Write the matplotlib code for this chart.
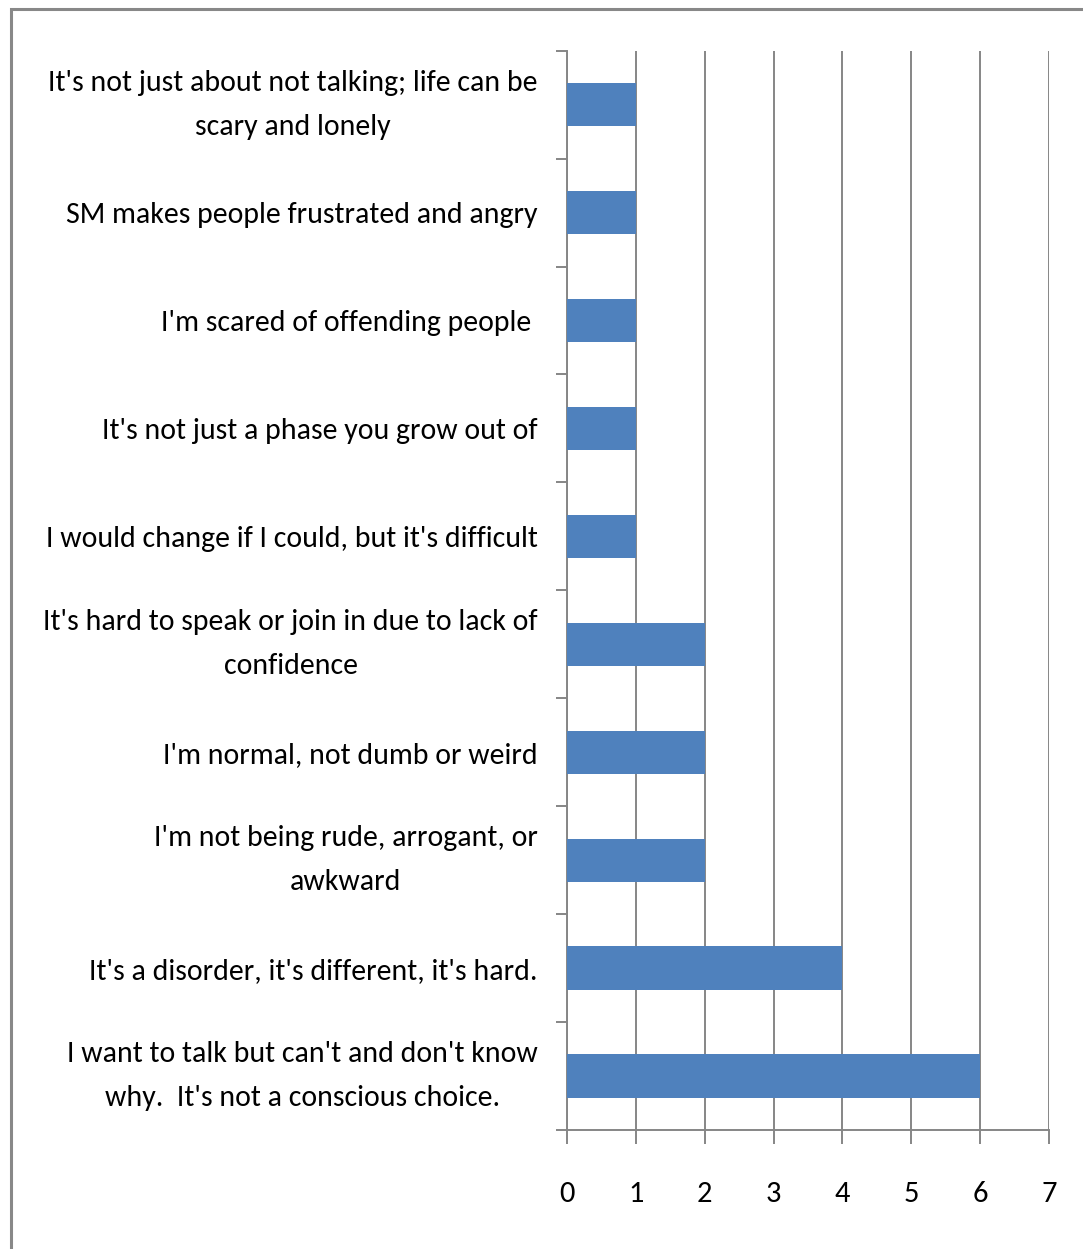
import matplotlib.pyplot as plt
from matplotlib.patches import Rectangle

labels = [
    "It's not just about not talking; life can be\nscary and lonely",
    "SM makes people frustrated and angry",
    "I'm scared of offending people ",
    "It's not just a phase you grow out of",
    "I would change if I could, but it's difficult",
    "It's hard to speak or join in due to lack of\nconfidence",
    "I'm normal, not dumb or weird",
    "I'm not being rude, arrogant, or\nawkward",
    "It's a disorder, it's different, it's hard.",
    "I want to talk but can't and don't know\nwhy.  It's not a conscious choice.",
]
counts = [1, 1, 1, 1, 1, 2, 2, 2, 4, 6]
xticks = [0, 1, 2, 3, 4, 5, 6, 7]

plt.rcParams['font.family'] = ['Carlito', 'DejaVu Sans']
grey = '#868686'

fig = plt.figure(figsize=(10.83, 12.49), dpi=100)
ax = fig.add_axes([0.5235, 0.0953, 0.4451, 0.8641])

pos = list(range(len(labels)))
ax.barh(pos, counts, height=0.4, color='#4F81BD', zorder=3)

ax.set_xlim(0, 7)
ax.set_ylim(len(labels) - 0.5, -0.5)
ax.set_xticks(xticks)
ax.set_xticklabels([str(t) for t in xticks])
ax.set_yticks(pos)
ax.set_yticklabels(labels, multialignment='center', linespacing=1.85)
ax.set_yticks([p - 0.5 for p in pos] + [len(labels) - 0.5], minor=True)
# two-line labels sit centred on the bar as a block
for lbl in ax.get_yticklabels():
    if '\n' in lbl.get_text():
        lbl.set_verticalalignment('center')

ax.grid(axis='x', color=grey, linewidth=1.4, zorder=0)
for side in ('top', 'right'):
    ax.spines[side].set_visible(False)
for side in ('left', 'bottom'):
    ax.spines[side].set_color(grey)
    ax.spines[side].set_linewidth(1.4)

ax.tick_params(axis='y', which='major', length=0, pad=21, labelsize=21.5)
ax.tick_params(axis='y', which='minor', length=8, width=1.4, color=grey)
ax.tick_params(axis='x', which='major', length=10, width=1.4, color=grey,
               pad=27, labelsize=22)

# outer frame of the chart area
fig.patches.append(Rectangle((11 / 1083, -0.1), 1.2, 1.1 - 9 / 1249,
                             transform=fig.transFigure, fill=False,
                             edgecolor='#888888', linewidth=2.2))

fig.savefig('out.png', dpi=100)
